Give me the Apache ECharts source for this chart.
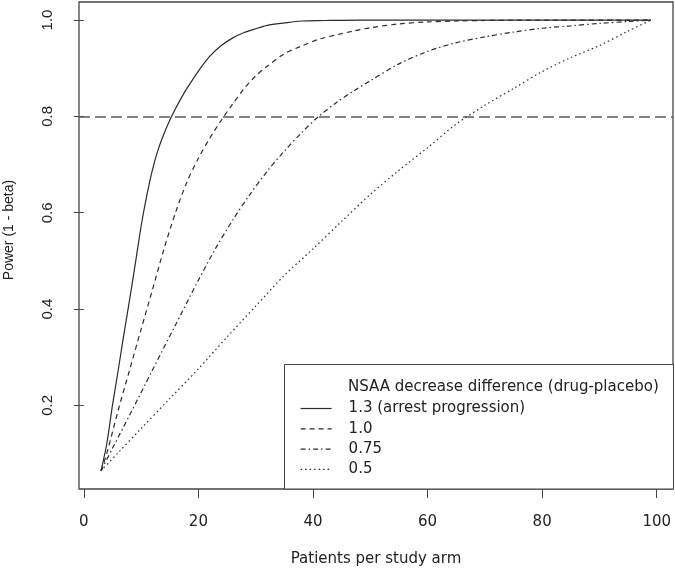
<!DOCTYPE html>
<html>
<head>
<meta charset="utf-8">
<script src="https://cdn.jsdelivr.net/npm/echarts@6/dist/echarts.min.js"></script>
<style>
  html, body { margin: 0; padding: 0; background: #fff; }
  #chart { width: 675px; height: 571px; }
</style>
</head>
<body>
<div id="chart"></div>
<script>
// ---- data ----
var seriesNames = ['1.3 (arrest progression)', '1.0', '0.75', '0.5'];
var legendTitle = 'NSAA decrease difference (drug-placebo)';
var xTitle = 'Patients per study arm';
var yTitle = 'Power (1 - beta)';
var xTicks = [0, 20, 40, 60, 80, 100];
var yTicks = [0.2, 0.4, 0.6, 0.8, 1.0];
var targetPower = 0.8;

var solidX = [3,4,5,6,7,8,9,10,11,12,13,14,15,16,17,18,20,22,24,26,28,30,32,35,38,42,48,60,80,99];
var solidY = [0.064,0.12,0.20,0.273,0.348,0.42,0.495,0.572,0.636,0.69,0.732,0.764,0.792,0.816,0.838,0.858,0.894,0.925,0.947,0.963,0.974,0.982,0.989,0.994,0.998,0.999,1.0,1.0,1.0,1.0];

var dashedX = [3,4,6,8,10,12,14,16,18,20,22,24,26,28,30,32,35,38,41,44,47,50,55,60,65,70,80,99];
var dashedY = [0.064,0.10,0.19,0.274,0.358,0.441,0.525,0.60,0.664,0.713,0.755,0.792,0.826,0.858,0.884,0.904,0.93,0.946,0.96,0.969,0.977,0.984,0.992,0.996,0.998,0.999,1.0,1.0];

var dashdotX = [3,5,8,12,16,20,23,26,29,32,35,38,41,44,47,50,55,60,65,70,75,80,85,90,95,99];
var dashdotY = [0.064,0.111,0.18,0.274,0.367,0.46,0.526,0.585,0.638,0.686,0.728,0.766,0.80,0.828,0.852,0.874,0.909,0.935,0.953,0.965,0.975,0.983,0.988,0.993,0.997,1.0];

var dottedX = [3,6,10,15,20,25,30,35,40,45,50,55,60,65,70,75,80,85,90,95,99];
var dottedY = [0.064,0.102,0.152,0.214,0.276,0.342,0.406,0.47,0.525,0.582,0.638,0.688,0.735,0.784,0.823,0.858,0.893,0.922,0.947,0.977,1.0];

// ---- build ----
function pairs(xs, ys) { return xs.map(function (x, i) { return [x, ys[i]]; }); }
var allX = [solidX, dashedX, dashdotX, dottedX];
var allY = [solidY, dashedY, dashdotY, dottedY];
var dashes = ['solid', [5, 4], [5, 3, 1.5, 3], [1.5, 3]];

var xsAll = [].concat(solidX, dashedX, dashdotX, dottedX);
var ysAll = [].concat(solidY, dashedY, dashdotY, dottedY);
var xMinD = Math.min.apply(null, xsAll), xMaxD = Math.max.apply(null, xsAll);
var yMinD = Math.min.apply(null, ysAll), yMaxD = Math.max.apply(null, ysAll);
var xPad = (xMaxD - xMinD) * 0.04, yPad = (yMaxD - yMinD) * 0.04;

var series = seriesNames.map(function (name, i) {
  return {
    name: name,
    type: 'line',
    data: pairs(allX[i], allY[i]),
    symbol: 'none',
    smooth: 0.3,
    lineStyle: { color: '#2b2b2b', width: 1.2, type: dashes[i] },
    itemStyle: { color: '#2b2b2b' },
    z: 2
  };
});
series[0].markLine = {
  silent: true,
  symbol: 'none',
  label: { show: false },
  lineStyle: { color: '#5a5a5a', width: 1.5, type: [11, 5] },
  data: [{ yAxis: targetPower }]
};

var chart = echarts.init(document.getElementById('chart'), null, { renderer: 'canvas' });
chart.setOption({
  animation: false,
  backgroundColor: '#ffffff',
  grid: {
    left: 79, top: 2, width: 594, height: 487,
    show: true, borderColor: '#444', borderWidth: 1.3, backgroundColor: 'transparent'
  },
  xAxis: {
    type: 'value',
    min: xMinD - xPad, max: xMaxD + xPad,
    axisLine: { show: false },
    splitLine: { show: false },
    axisTick: { show: true, length: 9, lineStyle: { color: '#444', width: 1 }, customValues: xTicks },
    axisLabel: {
      customValues: xTicks, margin: 26,
      fontFamily: 'DejaVu Sans', fontSize: 15, color: '#222'
    }
  },
  yAxis: {
    type: 'value',
    min: yMinD - yPad, max: yMaxD + yPad,
    axisLine: { show: false },
    splitLine: { show: false },
    axisTick: { show: true, length: 10, lineStyle: { color: '#444', width: 1 }, customValues: yTicks },
    axisLabel: {
      customValues: yTicks, rotate: 90, margin: 24,
      fontFamily: 'Liberation Sans', fontSize: 15, color: '#222',
      formatter: function (v) { return v.toFixed(1); }
    }
  },
  legend: {
    data: seriesNames,
    orient: 'vertical',
    left: 300, top: 401,
    padding: 0,
    itemWidth: 31, itemHeight: 14, itemGap: 5.3,
    itemStyle: { opacity: 0 },
    lineStyle: { width: 1.2 },
    textStyle: { fontFamily: 'DejaVu Sans', fontSize: 15, color: '#222', padding: [0, 0, 0, 12] },
    z: 6
  },
  graphic: [
    {
      type: 'rect', z: 4, silent: true,
      shape: { x: 284.5, y: 364.5, width: 389, height: 124.5 },
      style: { fill: '#ffffff', stroke: '#444', lineWidth: 1 }
    },
    {
      type: 'text', z: 7, silent: true,
      x: 348, y: 387,
      style: { text: legendTitle, fontFamily: 'DejaVu Sans', fontSize: 15, fill: '#222', textAlign: 'left', textVerticalAlign: 'middle' }
    },
    {
      type: 'text', z: 7, silent: true,
      x: 376, y: 559,
      style: { text: xTitle, fontFamily: 'DejaVu Sans', fontSize: 15, fill: '#222', textAlign: 'center', textVerticalAlign: 'middle' }
    },
    {
      type: 'text', z: 7, silent: true,
      x: 9, y: 230, rotation: Math.PI / 2,
      style: { text: yTitle, fontFamily: 'Liberation Sans', fontSize: 14, fill: '#222', textAlign: 'center', textVerticalAlign: 'middle' }
    }
  ],
  series: series
});
</script>
</body>
</html>
